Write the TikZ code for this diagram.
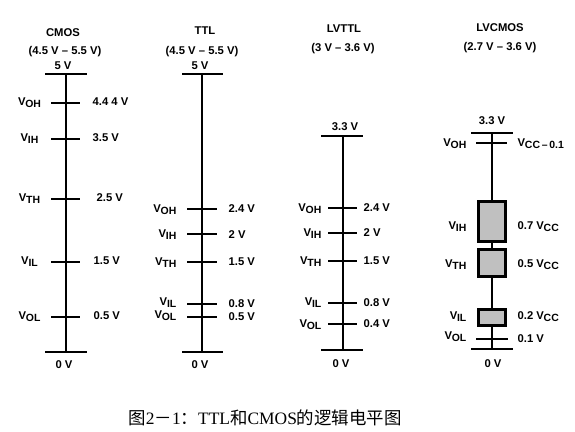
\documentclass[tikz,border=0pt]{standalone}
\usepackage{fontspec}
\setmainfont{Liberation Sans}
\newfontfamily\cjkfont{Noto Sans CJK SC}
\newfontfamily\serlat{Liberation Serif}
\newcommand\Vsb[2]{#1\kern-0.2bp\raisebox{-2.8bp}{\fontsize{10.5}{11}\selectfont #2}}
\definecolor{boxgray}{RGB}{192,192,192}
\begin{document}
\begin{tikzpicture}[x=1bp,y=-1bp,line width=1.3bp,
  lb/.style={font=\fontsize{11.3}{13}\selectfont\bfseries,inner sep=0pt},
  lbl/.style={lb,anchor=base east},
  lbr/.style={lb,anchor=base west},
  lbc/.style={lb,anchor=base},
  vbox/.style={draw,line width=2.8bp,fill=boxgray,minimum width=27bp,inner sep=0pt}]
\useasboundingbox[fill=white] (0,0) rectangle (575,431);

% ---------- CMOS ----------
\coordinate (c5) at (66,74); \coordinate (c0) at (66,352);
\coordinate (cOH) at (66,103); \coordinate (cIH) at (66,139);
\coordinate (cTH) at (66,199); \coordinate (cIL) at (66,262);
\coordinate (cOL) at (66,317);
\draw (c5) -- (c0);
\draw ([xshift=-21bp]c5) -- ([xshift=21bp]c5);
\draw ([xshift=-21bp]c0) -- ([xshift=21bp]c0);
\foreach \t in {cOH,cIH,cTH,cIL,cOL}{\draw ([xshift=-15bp]\t) -- ([xshift=14bp]\t);}
\node[lbc] (cmosT) at (63,36) {CMOS};
\node[lbc] (cmosR) at (65,54) {(4.5 V -- 5.5 V)};
\node[lbc] (cmos5) at (63,69) {5 V};
\node[lbc] (cmos0) at (64,368) {0 V};
\node[lbc] (cmosOH) at (29.5,105) {\Vsb{V}{OH}};
\node[lbc] (cmosIH) at (29.5,141) {\Vsb{V}{IH}};
\node[lbc] (cmosTH) at (29.5,201) {\Vsb{V}{TH}};
\node[lbc] (cmosIL) at (29.5,264) {\Vsb{V}{IL}};
\node[lbc] (cmosOL) at (29.5,319) {\Vsb{V}{OL}};
\node[lbr] (cmosvOH) at (92,105) {4.4 4 V};
\node[lbr] (cmosvIH) at (92,141) {3.5 V};
\node[lbr] (cmosvTH) at (96,201) {2.5 V};
\node[lbr] (cmosvIL) at (93,264) {1.5 V};
\node[lbr] (cmosvOL) at (93,319) {0.5 V};

% ---------- TTL ----------
\coordinate (t5) at (202,74); \coordinate (t0) at (202,352);
\coordinate (tOH) at (202,209); \coordinate (tIH) at (202,234);
\coordinate (tTH) at (202,262); \coordinate (tIL) at (202,304);
\coordinate (tOL) at (202,317);
\draw (t5) -- (t0);
\draw ([xshift=-20bp]t5) -- ([xshift=21bp]t5);
\draw ([xshift=-20bp]t0) -- ([xshift=21bp]t0);
\foreach \t in {tOH,tIH,tTH,tIL,tOL}{\draw ([xshift=-15bp]\t) -- ([xshift=15bp]\t);}
\node[lbc] (ttlT) at (205,34) {TTL};
\node[lbc] (ttlR) at (202,54) {(4.5 V -- 5.5 V)};
\node[lbc] (ttl5) at (200,69) {5 V};
\node[lbc] (ttl0) at (200,368) {0 V};
\node[lbl] (ttlOH) at (177,212) {\Vsb{V}{OH}};
\node[lbl] (ttlIH) at (177,237) {\Vsb{V}{IH}};
\node[lbl] (ttlTH) at (177,265) {\Vsb{V}{TH}};
\node[lbl] (ttlIL) at (177,305) {\Vsb{V}{IL}};
\node[lbl] (ttlOL) at (177,318) {\Vsb{V}{OL}};
\node[lbr] (ttlvOH) at (228,212) {2.4 V};
\node[lbr] (ttlvIH) at (228,238) {2 V};
\node[lbr] (ttlvTH) at (228,265) {1.5 V};
\node[lbr] (ttlvIL) at (228,307) {0.8 V};
\node[lbr] (ttlvOL) at (228,320) {0.5 V};

% ---------- LVTTL ----------
\coordinate (l3) at (343,136); \coordinate (l0) at (343,350);
\coordinate (lOH) at (343,208); \coordinate (lIH) at (343,233);
\coordinate (lTH) at (343,261); \coordinate (lIL) at (343,303);
\coordinate (lOL) at (343,324);
\draw (l3) -- (l0);
\draw ([xshift=-22bp]l3) -- ([xshift=20bp]l3);
\draw ([xshift=-22bp]l0) -- ([xshift=20bp]l0);
\foreach \t in {lOH,lIH,lTH,lIL,lOL}{\draw ([xshift=-15bp]\t) -- ([xshift=14bp]\t);}
\node[lbc] (lvttlT) at (344,32) {LVTTL};
\node[lbc] (lvttlR) at (343,51) {(3 V -- 3.6 V)};
\node[lbc] (lvttl3) at (345,130) {3.3 V};
\node[lbc] (lvttl0) at (341,367) {0 V};
\node[lbl] (lvttlOH) at (322,211) {\Vsb{V}{OH}};
\node[lbl] (lvttlIH) at (322,236) {\Vsb{V}{IH}};
\node[lbl] (lvttlTH) at (322,264) {\Vsb{V}{TH}};
\node[lbl] (lvttlIL) at (322,305) {\Vsb{V}{IL}};
\node[lbl] (lvttlOL) at (322,327) {\Vsb{V}{OL}};
\node[lbr] (lvttlvOH) at (363,211) {2.4 V};
\node[lbr] (lvttlvIH) at (363,236) {2 V};
\node[lbr] (lvttlvTH) at (363,264) {1.5 V};
\node[lbr] (lvttlvIL) at (363,306) {0.8 V};
\node[lbr] (lvttlvOL) at (363,327) {0.4 V};

% ---------- LVCMOS ----------
\coordinate (m3) at (492,133); \coordinate (m0) at (492,349);
\coordinate (mOH) at (492,143); \coordinate (mOL) at (492,339);
\draw (m3) -- (m0);
\draw ([xshift=-21bp]m3) -- ([xshift=21bp]m3);
\draw ([xshift=-21bp]m0) -- ([xshift=21bp]m0);
\draw ([xshift=-16bp]mOH) -- ([xshift=15bp]mOH);
\draw ([xshift=-16bp]mOL) -- ([xshift=16bp]mOL);
\node[vbox,minimum height=40bp] (bIH) at (492,221.5) {};
\node[vbox,minimum height=27bp] (bTH) at (492,263) {};
\node[vbox,minimum height=16bp] (bIL) at (492,317.5) {};
\node[lbc] (lvcT) at (500,31) {LVCMOS};
\node[lbc] (lvcR) at (500,50) {(2.7 V -- 3.6 V)};
\node[lbc] (lvc3) at (492,124) {3.3 V};
\node[lbc] (lvc0) at (493,367) {0 V};
\node[lbl] (lvcOH) at (467,146) {\Vsb{V}{OH}};
\node[lbl] (lvcIH) at (467,229) {\Vsb{V}{IH}};
\node[lbl] (lvcTH) at (467,267) {\Vsb{V}{TH}};
\node[lbl] (lvcIL) at (467,319) {\Vsb{V}{IL}};
\node[lbl] (lvcOL) at (467,339) {\Vsb{V}{OL}};
\node[lbr] (lvcvOH) at (517,146) {\Vsb{V}{CC\,--\,0.1}};
\node[lbr] (lvcvIH) at (517,229) {0.7 \Vsb{V}{CC}};
\node[lbr] (lvcvTH) at (517,267) {0.5 \Vsb{V}{CC}};
\node[lbr] (lvcvIL) at (517,319) {0.2 \Vsb{V}{CC}};
\node[lbr] (lvcvOL) at (517,342) {0.1 V};

% ---------- caption ----------
\node[inner sep=0pt,font=\cjkfont\fontsize{17.5}{19}\selectfont] (cap) at (265,418)
  {图{\serlat 2}－{\serlat 1}：{\serlat TTL}和{\serlat CMOS}的逻辑电平图};
\end{tikzpicture}
\end{document}
